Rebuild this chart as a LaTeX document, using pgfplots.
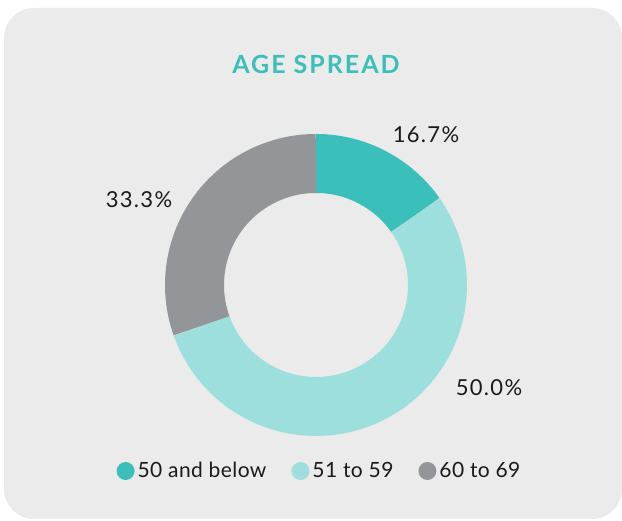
\documentclass[border=0pt]{standalone}
\usepackage{fontspec}
\setmainfont{Lato}
\usepackage{pgfplots}
\pgfplotsset{compat=1.18}
\definecolor{bg}{HTML}{EBEBEB}
\definecolor{ca}{HTML}{3BBFBA}
\definecolor{cb}{HTML}{9DDFDC}
\definecolor{cc}{HTML}{939598}
\definecolor{txt}{HTML}{1A1A1A}
% boundary angles of the slices as drawn (degrees, counter-clockwise from east)
\def\ta{90}\def\tb{35.1}\def\tc{-160.4}\def\td{-270}
\begin{document}
\begin{tikzpicture}
\begin{axis}[x=1bp,y=1bp,xmin=0,xmax=622,ymin=0,ymax=521,
  hide axis, scale only axis, clip=false,
  legend columns=3,
  legend style={at={(axis cs:320,50)},anchor=center,draw=none,fill=none,
    text=txt, font=\fontsize{21bp}{24bp}\selectfont\addfontfeatures{LetterSpace=2},
    nodes={inner xsep=3bp},
    /tikz/every even column/.append style={column sep=22bp}},
  legend image code/.code={\path[draw=none,fill,line width=0pt] (0bp,0bp) circle (9bp);}]
\fill[white] (axis cs:0,0) rectangle (axis cs:622,521);
\fill[bg, rounded corners=30bp] (axis cs:4,2) rectangle (axis cs:622,513);
\addplot[ca, line width=59bp, domain=\ta:\tb, samples=80] ({316+121.5*cos(x)},{236+121.5*sin(x)});
\addlegendentry{50 and below}
\addplot[cb, line width=59bp, domain=\tb:\tc, samples=150] ({316+121.5*cos(x)},{236+121.5*sin(x)});
\addlegendentry{51 to 59}
\addplot[cc, line width=59bp, domain=\tc:\td, samples=100] ({316+121.5*cos(x)},{236+121.5*sin(x)});
\addlegendentry{60 to 69}
\node[ca, font=\fontsize{25bp}{28bp}\selectfont\bfseries\addfontfeatures{LetterSpace=8}] at (axis cs:316,457) {AGE SPREAD};
\node[txt, font=\fontsize{22bp}{24bp}\selectfont\addfontfeatures{LetterSpace=6}] at (axis cs:426,386) {16.7\%};
\node[txt, font=\fontsize{22bp}{24bp}\selectfont\addfontfeatures{LetterSpace=6}] at (axis cs:139,321) {33.3\%};
\node[txt, font=\fontsize{22bp}{24bp}\selectfont\addfontfeatures{LetterSpace=6}] at (axis cs:489,133) {50.0\%};
\end{axis}
\end{tikzpicture}
\end{document}
